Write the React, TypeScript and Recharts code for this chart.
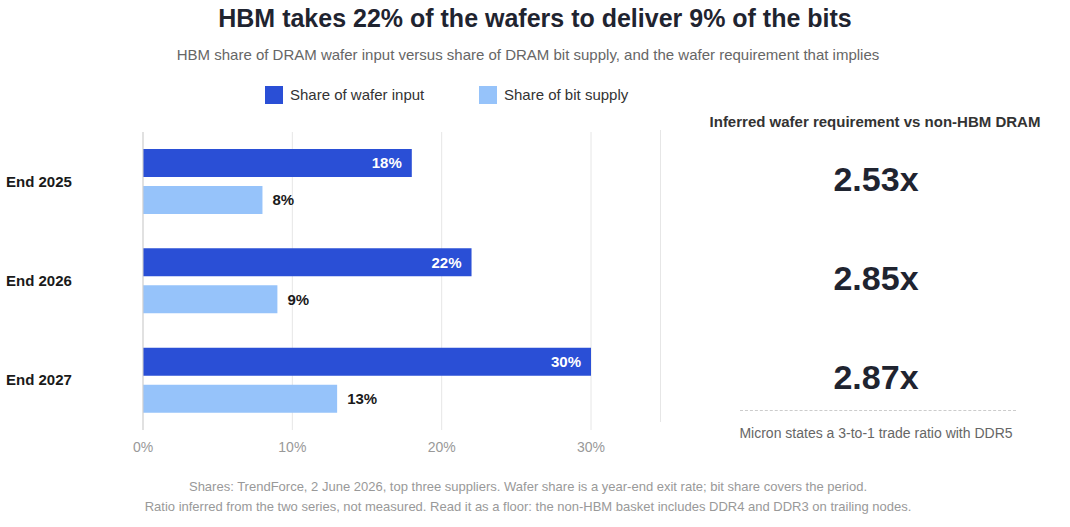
import React from "react";
import { BarChart, Bar, XAxis, YAxis, CartesianGrid, LabelList } from "recharts";

const categories = ["End 2025", "End 2026", "End 2027"];
const waferShare = [18, 22, 30];
const bitShare = [8, 9, 13];
const ratios = ["2.53x", "2.85x", "2.87x"];
const xTicks = [0, 10, 20, 30];

const data = categories.map((c, i) => ({ cat: c, wafer: waferShare[i], bit: bitShare[i] }));
const F = "'Helvetica Neue', Arial, 'Liberation Sans', sans-serif";

const CatTick = (p: any) => (
  <text x={6} y={p.y} dy={5} fill="#1a1a1a" fontSize={15} fontWeight={700} fontFamily={F} textAnchor="start">
    {p.payload.value}
  </text>
);

export default function App() {
  const abs = (s: any) => ({ position: "absolute" as const, ...s });
  return (
    <div style={abs({ left: 0, top: 0, width: 1070, height: 527, background: "#fff", fontFamily: F })}>
      <div style={abs({ left: 0, width: 1070, top: 4, textAlign: "center", fontSize: 25, fontWeight: 700, color: "#1f2430" })}>
        HBM takes 22% of the wafers to deliver 9% of the bits
      </div>
      <div style={abs({ left: 0, width: 1056, top: 46, textAlign: "center", fontSize: 15, color: "#666" })}>
        HBM share of DRAM wafer input versus share of DRAM bit supply, and the wafer requirement that implies
      </div>
      <div style={abs({ left: 265, top: 86, width: 18, height: 18, background: "#2a4fd6" })} />
      <div style={abs({ left: 290, top: 86, fontSize: 15, color: "#333" })}>Share of wafer input</div>
      <div style={abs({ left: 479, top: 86, width: 18, height: 18, background: "#96c3fa" })} />
      <div style={abs({ left: 504, top: 86, fontSize: 15, color: "#333" })}>Share of bit supply</div>

      <div style={abs({ left: 0, top: 120 })}>
        <BarChart width={670} height={340} data={data} layout="vertical"
          margin={{ top: 12, right: 79, left: 0, bottom: 0 }} barCategoryGap={17} barGap={9}>
          <CartesianGrid horizontal={false} vertical={true} stroke="#e6e6e6" />
          <XAxis type="number" domain={[0, 30]} ticks={xTicks} tickFormatter={(v) => `${v}%`}
            axisLine={false} tickLine={false} tick={{ fill: "#999", fontSize: 14, fontFamily: F }} height={30} tickMargin={6} />
          <YAxis type="category" dataKey="cat" width={143} tick={<CatTick />} tickLine={false}
            axisLine={{ stroke: "#cfcfcf" }} />
          <Bar dataKey="wafer" fill="#2a4fd6" barSize={28} isAnimationActive={false}>
            <LabelList dataKey="wafer" position="insideRight" formatter={(v: any) => `${v}%`}
              fill="#fff" fontSize={15} fontWeight={700} offset={10} />
          </Bar>
          <Bar dataKey="bit" fill="#96c3fa" barSize={28} isAnimationActive={false}>
            <LabelList dataKey="bit" position="right" formatter={(v: any) => `${v}%`}
              fill="#1a1a1a" fontSize={15} fontWeight={700} offset={10} />
          </Bar>
        </BarChart>
      </div>

      <div style={abs({ left: 660, top: 130, width: 1, height: 292, background: "#e6e6e6" })} />
      <div style={abs({ left: 690, width: 370, top: 113, textAlign: "center", fontSize: 15, fontWeight: 700, color: "#333" })}>
        Inferred wafer requirement vs non-HBM DRAM
      </div>
      {ratios.map((r, i) => (
        <div key={r} style={abs({ left: 690, width: 372, top: 160 + i * 99, textAlign: "center", fontSize: 34, fontWeight: 700, color: "#1f2430" })}>
          {r}
        </div>
      ))}
      <div style={abs({ left: 740, top: 410, width: 276, borderTop: "1px dashed #ccc" })} />
      <div style={abs({ left: 690, width: 372, top: 425, textAlign: "center", fontSize: 14, color: "#666" })}>
        Micron states a 3-to-1 trade ratio with DDR5
      </div>
      <div style={abs({ left: 0, width: 1056, top: 477, textAlign: "center", fontSize: 13, color: "#999", lineHeight: "20px" })}>
        Shares: TrendForce, 2 June 2026, top three suppliers. Wafer share is a year-end exit rate; bit share covers the period.<br />
        Ratio inferred from the two series, not measured. Read it as a floor: the non-HBM basket includes DDR4 and DDR3 on trailing nodes.
      </div>
    </div>
  );
}
